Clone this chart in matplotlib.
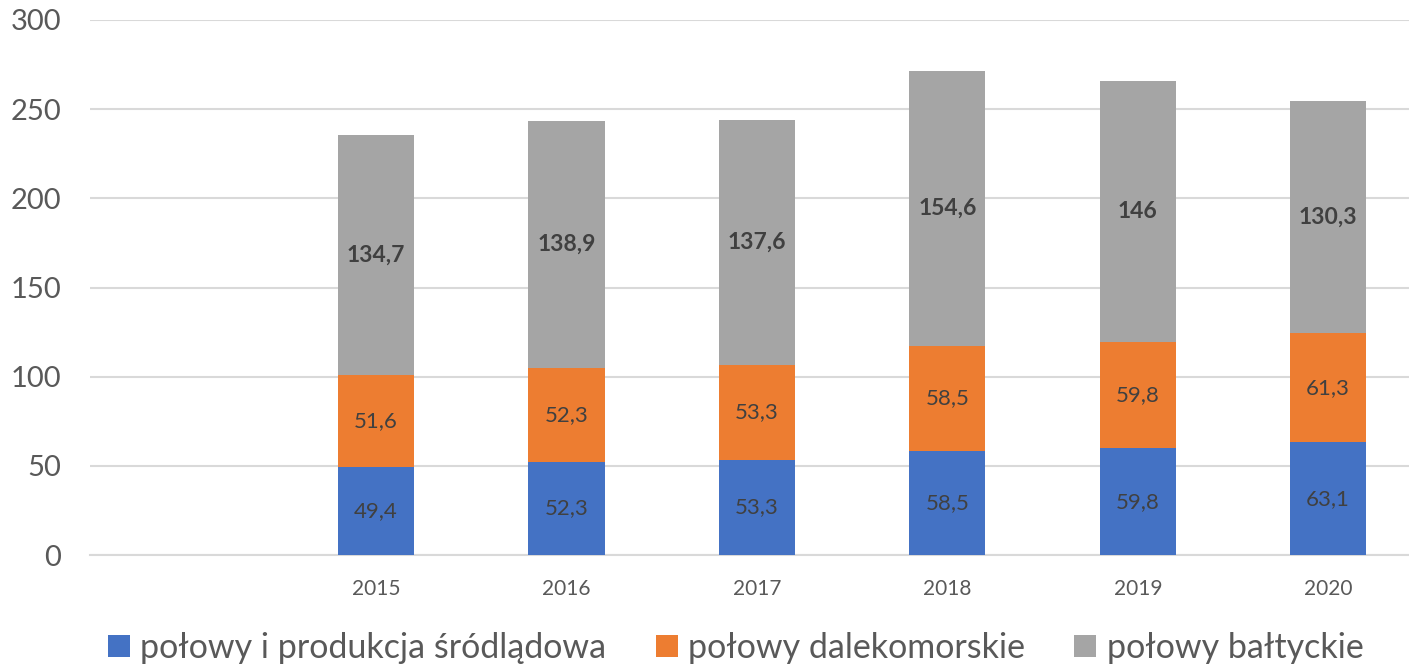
import numpy as np
import matplotlib.pyplot as plt

plt.rcParams['font.family'] = ['Lato', 'DejaVu Sans']

years = ['', '2015', '2016', '2017', '2018', '2019', '2020']
srodladowe = [0, 49.4, 52.3, 53.3, 58.5, 59.8, 63.1]
dalekomorskie = [0, 51.6, 52.3, 53.3, 58.5, 59.8, 61.3]
baltyckie = [0, 134.7, 138.9, 137.6, 154.6, 146, 130.3]

labels_s = ['', '49,4', '52,3', '53,3', '58,5', '59,8', '63,1']
labels_d = ['', '51,6', '52,3', '53,3', '58,5', '59,8', '61,3']
labels_b = ['', '134,7', '138,9', '137,6', '154,6', '146', '130,3']

names = ['połowy i produkcja śródlądowa', 'połowy dalekomorskie', 'połowy bałtyckie']
colors = ['#4472C4', '#ED7D31', '#A5A5A5']

fig = plt.figure(figsize=(14.09, 6.66), dpi=100)
ax = fig.add_axes([90.4 / 1409, 1 - 555 / 666, 1333 / 1409, 535 / 666])

x = np.arange(len(years))
w = 0.4
s = np.array(srodladowe)
d = np.array(dalekomorskie)
b = np.array(baltyckie)

bars1 = ax.bar(x, s, w, color=colors[0], label=names[0], zorder=3)
bars2 = ax.bar(x, d, w, bottom=s, color=colors[1], label=names[1], zorder=3)
bars3 = ax.bar(x, b, w, bottom=s + d, color=colors[2], label=names[2], zorder=3)

for i in range(1, len(years)):
    ax.text(x[i], s[i] / 2, labels_s[i], ha='center', va='center',
            fontsize=16, color='#404040', zorder=4)
    ax.text(x[i], s[i] + d[i] / 2, labels_d[i], ha='center', va='center',
            fontsize=16, color='#404040', zorder=4)
    ax.text(x[i], s[i] + d[i] + b[i] / 2, labels_b[i], ha='center', va='center',
            fontsize=16.5, color='#404040', fontweight='bold', zorder=4)

ax.set_xlim(-0.5, len(years) - 0.5)
ax.set_ylim(0, 300)
ax.set_yticks(np.arange(0, 301, 50))
ax.set_xticks(x)
ax.set_xticklabels(years)
ax.grid(axis='y', color='#D9D9D9', linewidth=1.5, zorder=0)
for sp in ['top', 'right', 'left']:
    ax.spines[sp].set_visible(False)
ax.spines['bottom'].set_color('#D9D9D9')
ax.spines['bottom'].set_linewidth(1.5)
ax.tick_params(axis='both', length=0, colors='#595959')
ax.tick_params(axis='y', labelsize=21, pad=21)
ax.tick_params(axis='x', labelsize=15, pad=17)

fig.legend(handles=[bars1, bars2, bars3], loc='center', bbox_to_anchor=(0.522, 1 - 648 / 666),
           ncol=3, frameon=False, fontsize=24.5, labelcolor='#595959',
           handlelength=0.65, handleheight=0.65, handletextpad=0.3, columnspacing=1.45)

plt.savefig('out.png', dpi=100)
